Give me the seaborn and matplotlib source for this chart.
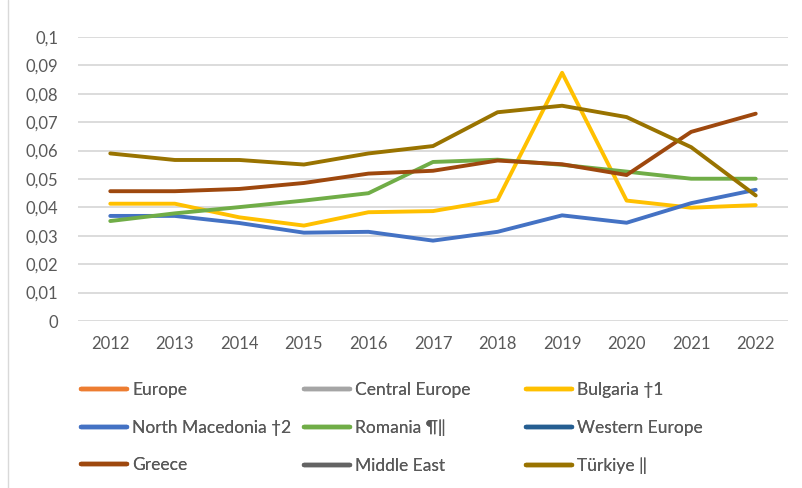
import numpy as np
import pandas as pd
import matplotlib
matplotlib.use("Agg")
import matplotlib.pyplot as plt
from matplotlib.lines import Line2D
from matplotlib.ticker import FuncFormatter, MultipleLocator
import seaborn as sns

years = [2012, 2013, 2014, 2015, 2016, 2017, 2018, 2019, 2020, 2021, 2022]
bulgaria = [0.0413, 0.0413, 0.0365, 0.0336, 0.0383, 0.0387, 0.0426, 0.0874, 0.0424, 0.0399, 0.0408]
north_macedonia = [0.0370, 0.0370, 0.0345, 0.0311, 0.0314, 0.0283, 0.0314, 0.0372, 0.0346, 0.0415, 0.0462]
romania = [0.0352, 0.0379, 0.0401, 0.0424, 0.0450, 0.0560, 0.0568, 0.0550, 0.0526, 0.0501, 0.0501]
greece = [0.0457, 0.0457, 0.0465, 0.0486, 0.0519, 0.0529, 0.0565, 0.0552, 0.0514, 0.0666, 0.0730]
turkiye = [0.0590, 0.0567, 0.0567, 0.0551, 0.0590, 0.0616, 0.0735, 0.0758, 0.0718, 0.0612, 0.0442]

series_names = ["Europe", "Central Europe", "Bulgaria \u20201",
                "North Macedonia \u20202", "Romania \u00b6\u2016", "Western Europe",
                "Greece", "Middle East", "T\u00fcrkiye \u2016"]
series_colors = ["#ED7D31", "#A5A5A5", "#FFC000",
                 "#4472C4", "#70AD47", "#255E91",
                 "#9E480E", "#636363", "#997300"]
series_values = {
    "Bulgaria \u20201": bulgaria,
    "North Macedonia \u20202": north_macedonia,
    "Romania \u00b6\u2016": romania,
    "Greece": greece,
    "T\u00fcrkiye \u2016": turkiye,
}

sns.set_style("white")
plt.rcParams["font.family"] = ["Lato", "DejaVu Sans"]

rows = []
for name, vals in series_values.items():
    for i, v in enumerate(vals):
        rows.append({"idx": i, "value": v, "series": name})
df = pd.DataFrame(rows)
palette = dict(zip(series_names, series_colors))

W, H = 803, 488
fig = plt.figure(figsize=(W / 100, H / 100), dpi=100)
ax = fig.add_axes([78 / W, 1 - 321 / H, (788 - 78) / W, (321 - 37) / H])

order = [n for n in series_names if n in series_values]
sns.lineplot(data=df, x="idx", y="value", hue="series", hue_order=order,
             palette=palette, linewidth=2.8, ax=ax, legend=False, zorder=3)
for line in ax.lines:
    line.set_solid_joinstyle("round")
    line.set_solid_capstyle("round")

ax.set_xlim(-0.5, len(years) - 0.5)
ax.set_ylim(0, 0.1)
ax.yaxis.set_major_locator(MultipleLocator(0.01))
ax.yaxis.set_major_formatter(FuncFormatter(lambda v, p: f"{round(v, 4):g}".replace(".", ",")))
ax.set_xticks(range(len(years)))
ax.set_xticklabels([str(y) for y in years])
ax.grid(axis="y", color="#D9D9D9", linewidth=1.3, zorder=0)
ax.grid(axis="x", visible=False)
for s in ax.spines.values():
    s.set_visible(False)
ax.tick_params(axis="both", length=0, labelsize=12, labelcolor="#595959")
ax.tick_params(axis="y", pad=14)
ax.tick_params(axis="x", pad=11)
ax.set_xlabel("")
ax.set_ylabel("")

# legend: three columns placed explicitly, row-wise order as in the reference
handles = {n: Line2D([0], [0], color=c, linewidth=3.2, solid_capstyle="round")
           for n, c in zip(series_names, series_colors)}
col_x = [81, 304, 526]
for c in range(3):
    names = [series_names[r * 3 + c] for r in range(3)]
    leg = fig.legend([handles[n] for n in names], names, ncol=1,
                     loc="upper left", bbox_to_anchor=(col_x[c] / W, 1 - 382 / H),
                     frameon=False, fontsize=12.5, handlelength=2.65, handletextpad=0.3,
                     labelspacing=1.25, borderaxespad=0, borderpad=0)
    for t in leg.get_texts():
        t.set_color("#595959")
    fig.add_artist(leg)

fig.add_artist(Line2D([8 / W, 8 / W], [0, 1], color="#D9D9D9", linewidth=1))

fig.savefig("out.png", dpi=100)
